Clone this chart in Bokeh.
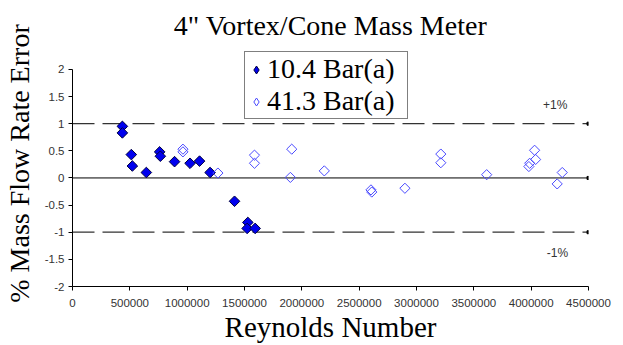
import math
from bokeh.plotting import figure
from bokeh.models import Label, Legend, LegendItem, FixedTicker, Range1d
from bokeh.embed import file_html
from bokeh.resources import INLINE

title_text = '4" Vortex/Cone Mass Meter'
x_label = "Reynolds Number"
y_label = "% Mass Flow Rate Error"
series1_name = "10.4 Bar(a)"
series2_name = "41.3 Bar(a)"

re_104 = [435000, 435000, 513000, 522000, 644000, 760000, 766000, 890000,
          1025000, 1108000, 1200000, 1413000, 1529000, 1523000, 1593000]
err_104 = [0.95, 0.83, 0.43, 0.22, 0.10, 0.48, 0.40, 0.30,
           0.27, 0.31, 0.10, -0.43, -0.82, -0.93, -0.93]

re_413 = [963000, 963000, 1268000, 1587000, 1587000, 1912000, 1900000, 2196000,
          2603000, 2610000, 2899000, 3212000, 3212000, 3612000, 4030000, 4039000,
          3987000, 3980000, 4227000, 4271000]
err_413 = [0.53, 0.48, 0.09, 0.42, 0.27, 0.53, 0.01, 0.13,
           -0.22, -0.26, -0.19, 0.44, 0.28, 0.06, 0.51, 0.34,
           0.27, 0.21, -0.11, 0.10]

limit_x = [0, 4500000]
upper_limit = [1, 1]
zero_line = [0, 0]
lower_limit = [-1, -1]
upper_text = "+1%"
lower_text = "-1%"
upper_text_pos = (4210000, 1.35)
lower_text_pos = (4230000, -1.38)

x_ticks = [0, 500000, 1000000, 1500000, 2000000, 2500000, 3000000, 3500000, 4000000, 4500000]
x_tick_labels = ["0", "500000", "1000000", "1500000", "2000000", "2500000",
                 "3000000", "3500000", "4000000", "4500000"]
y_ticks = [-2.0, -1.5, -1.0, -0.5, 0.0, 0.5, 1.0, 1.5, 2.0]
y_tick_labels = ["-2", "-1.5", "-1", "-0.5", "0", "0.5", "1", "1.5", "2"]

SERIF = "Liberation Serif"
SANS = "Liberation Sans"

# frame extends above y=2 so the legend box can overlap the top of the axis
p = figure(width=623, height=345, output_backend="svg", toolbar_location=None,
           x_range=Range1d(0, 4500000), y_range=Range1d(-2, 2.532),
           min_border_left=71, min_border_right=35, min_border_top=40, min_border_bottom=58)
p.outline_line_color = None
p.xgrid.visible = False
p.ygrid.visible = False
p.background_fill_color = "white"
p.border_fill_color = "white"

p.title.text = title_text
p.title.text_font = SERIF
p.title.text_font_size = "28px"
p.title.text_font_style = "normal"
p.title.text_color = "black"
p.title.align = "center"
p.title.standoff = 0

for ax, ticks, labels in ((p.xaxis[0], x_ticks, x_tick_labels), (p.yaxis[0], y_ticks, y_tick_labels)):
    ax.ticker = FixedTicker(ticks=ticks)
    ax.major_label_overrides = {float(t): l for t, l in zip(ticks, labels)}
    ax.minor_tick_line_color = None
    ax.major_tick_in = 0
    ax.major_tick_out = 4
    ax.axis_line_color = "black"
    ax.major_tick_line_color = "black"
    ax.major_label_text_font = SANS
    ax.major_label_text_font_size = "11.5px"
    ax.major_label_text_color = "#333333"
    ax.axis_label_text_font = SERIF
    ax.axis_label_text_font_style = "normal"
    ax.axis_label_text_color = "black"
p.yaxis[0].bounds = (-2, 2)
p.yaxis[0].major_label_standoff = 4
p.yaxis[0].axis_label = y_label
p.yaxis[0].axis_label_text_font_size = "28px"
p.yaxis[0].axis_label_standoff = 7
p.xaxis[0].major_label_standoff = 8
p.xaxis[0].axis_label = x_label
p.xaxis[0].axis_label_text_font_size = "29px"
p.xaxis[0].axis_label_standoff = 1

# reference lines
p.line(limit_x, upper_limit, line_color="#333333", line_width=1.2, line_dash="22 8")
p.line(limit_x, lower_limit, line_color="#333333", line_width=1.2, line_dash="22 8")
p.line(limit_x, zero_line, line_color="black", line_width=1)
p.scatter(limit_x[1:], upper_limit[1:], marker="square", size=3, color="black")
p.scatter(limit_x[1:], lower_limit[1:], marker="square", size=3, color="black")
p.scatter(limit_x[1:], zero_line[1:], marker="square", size=3, color="black")

filled_style = dict(fill_color="#0000ee", line_color="#000040", line_width=1)
open_style = dict(fill_color="white", fill_alpha=0.0, line_color="#4a4aff", line_width=1)

r1 = p.scatter(re_104, err_104, marker="square", size=7.5, angle=math.pi / 4, **filled_style)
r2 = p.scatter(re_413, err_413, marker="square", size=7.2, angle=math.pi / 4, **open_style)

# renderers used only for the legend swatches (diamond shape, NaN data so nothing is plotted)
nan = float("nan")
r1_key = p.scatter(x=[nan], y=[nan], marker="diamond", size=8, **filled_style)
r2_key = p.scatter(x=[nan], y=[nan], marker="diamond", size=8, **open_style)

for txt, (tx, ty) in ((upper_text, upper_text_pos), (lower_text, lower_text_pos)):
    p.add_layout(Label(x=tx, y=ty, text=txt, text_font=SANS, text_font_size="12px",
                       text_color="#333333", text_align="center", text_baseline="middle"))

legend = Legend(items=[LegendItem(label=series1_name, renderers=[r1_key], index=0),
                       LegendItem(label=series2_name, renderers=[r2_key], index=0)],
                location=(172, 167), label_text_font=SERIF, label_text_font_size="28px",
                label_text_color="black",
                label_height=27, label_width=139, glyph_height=27, glyph_width=20,
                label_standoff=1, padding=1, spacing=0, margin=0,
                border_line_color="black", border_line_width=1,
                background_fill_color="white", background_fill_alpha=1.0)
p.add_layout(legend)

open("out.html", "w").write(file_html(p, INLINE))
